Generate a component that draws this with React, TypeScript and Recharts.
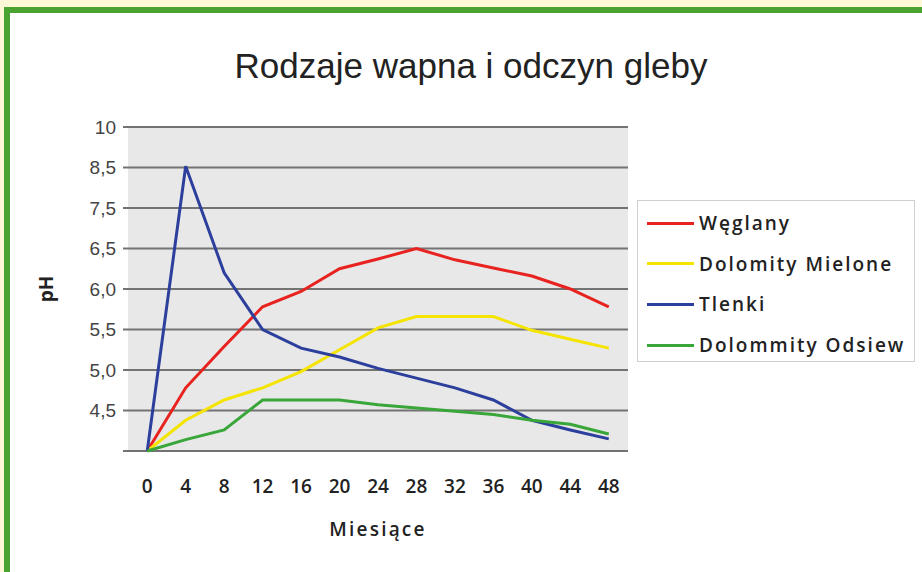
import { CartesianGrid, Label, Line, LineChart, XAxis, YAxis } from "recharts";

// months on the x axis
const months = [0, 4, 8, 12, 16, 20, 24, 28, 32, 36, 40, 44, 48];

// pH readings per lime type
const weglany = [4.0, 4.78, 5.29, 5.78, 5.97, 6.25, 6.37, 6.5, 6.36, 6.26, 6.16, 6.0, 5.78];
const dolomityMielone = [4.0, 4.38, 4.63, 4.78, 4.98, 5.25, 5.52, 5.66, 5.66, 5.66, 5.49, 5.38, 5.27];
const tlenki = [4.0, 8.55, 6.2, 5.5, 5.27, 5.16, 5.02, 4.9, 4.78, 4.63, 4.38, 4.26, 4.15];
const dolommityOdsiew = [4.0, 4.14, 4.26, 4.63, 4.63, 4.63, 4.57, 4.53, 4.49, 4.45, 4.38, 4.33, 4.21];

// the original axis is not linear: gridlines are evenly spaced at these pH values
const phTicks = [4.0, 4.5, 5.0, 5.5, 6.0, 6.5, 7.5, 8.5, 10];
const phLabels = ["", "4,5", "5,0", "5,5", "6,0", "6,5", "7,5", "8,5", "10"];

// tick marks on the month axis sit between the categories
const monthBoundaries = [-2, 2, 6, 10, 14, 18, 22, 26, 30, 34, 38, 42, 46, 50];

const series = [
  { key: "weglany", name: "Węglany", color: "#e8231f", values: weglany },
  { key: "dolomityMielone", name: "Dolomity Mielone", color: "#f5e400", values: dolomityMielone },
  { key: "tlenki", name: "Tlenki", color: "#2d3f9c", values: tlenki },
  { key: "dolommityOdsiew", name: "Dolommity Odsiew", color: "#39a63a", values: dolommityOdsiew },
];

// map a pH value onto the evenly spaced gridline index
function toAxis(ph: number) {
  for (let i = 0; i < phTicks.length - 1; i++) {
    if (ph <= phTicks[i + 1]) {
      return i + (ph - phTicks[i]) / (phTicks[i + 1] - phTicks[i]);
    }
  }
  return phTicks.length - 1;
}

const data = months.map((m, i) => {
  const row: Record<string, number> = { month: m };
  series.forEach((s) => {
    row[s.key] = toAxis(s.values[i]);
  });
  return row;
});

const GRID = "#737373";
const SANS = "'Open Sans', sans-serif";

export default function App() {
  return (
    <div
      style={{
        position: "absolute",
        left: 0,
        top: 0,
        width: 922,
        height: 572,
        background: "#ffffff",
        overflow: "hidden",
      }}
    >
      {/* frame */}
      <div style={{ position: "absolute", left: 0, top: 0, width: 922, height: 7, background: "#fff8d6" }} />
      <div style={{ position: "absolute", left: 0, top: 0, width: 4, height: 572, background: "#fff8d6" }} />
      <div style={{ position: "absolute", left: 4, top: 7, width: 918, height: 6, background: "#4aa231" }} />
      <div style={{ position: "absolute", left: 4, top: 7, width: 6, height: 565, background: "#4aa231" }} />

      <div
        style={{
          position: "absolute",
          left: 0,
          top: 46,
          width: 942,
          textAlign: "center",
          fontFamily: "'Liberation Sans', Arial, sans-serif",
          fontSize: 35,
          color: "#222",
          whiteSpace: "nowrap",
        }}
      >
        Rodzaje wapna i odczyn gleby
      </div>

      <div style={{ position: "absolute", left: 0, top: 0 }}>
        <LineChart
          width={922}
          height={572}
          data={data}
          margin={{ top: 127, right: 294, bottom: 0, left: 0 }}
        >
          <CartesianGrid
            vertical={false}
            fill="#e8e8e8"
            stroke={GRID}
            strokeWidth={2}
            yAxisId="ph"
            xAxisId="marks"
          />
          <XAxis
            xAxisId="marks"
            type="number"
            dataKey="month"
            domain={[-2, 50]}
            ticks={monthBoundaries}
            tick={false}
            tickSize={6}
            tickLine={{ stroke: GRID, strokeWidth: 2 }}
            axisLine={{ stroke: GRID, strokeWidth: 2 }}
            height={0}
          />
          <XAxis
            xAxisId="labels"
            type="number"
            dataKey="month"
            domain={[-2, 50]}
            ticks={months}
            interval={0}
            tickLine={false}
            axisLine={false}
            tickSize={0}
            tickMargin={29}
            height={121}
            tick={{
              fontSize: 19,
              fontWeight: 600,
              fill: "#222",
              fontFamily: SANS,
            }}
          >
            <Label
              value="Miesiące"
              position="insideBottom"
              offset={36}
              style={{
                fontSize: 19,
                fontWeight: 600,
                fill: "#222",
                fontFamily: SANS,
                letterSpacing: 2.2,
              }}
            />
          </XAxis>
          <YAxis
            yAxisId="ph"
            type="number"
            domain={[0, 8]}
            ticks={[0, 1, 2, 3, 4, 5, 6, 7, 8]}
            interval={0}
            width={128}
            axisLine={false}
            tickSize={5}
            tickMargin={7}
            tickLine={{ stroke: GRID, strokeWidth: 2 }}
            tickFormatter={(v: number) => phLabels[v]}
            tick={{
              fontSize: 19,
              fill: "#444",
              fontFamily: "'Liberation Sans', Arial, sans-serif",
            }}
          >
            <Label
              content={({ viewBox }: any) => {
                const cx = viewBox.x + 46;
                const cy = viewBox.y + viewBox.height / 2;
                return (
                  <text
                    x={cx}
                    y={cy}
                    transform={`rotate(-90, ${cx}, ${cy})`}
                    textAnchor="middle"
                    dominantBaseline="central"
                    style={{
                      fontSize: 19,
                      fontWeight: 700,
                      fill: "#222",
                      fontFamily: SANS,
                    }}
                  >
                    pH
                  </text>
                );
              }}
            />
          </YAxis>
          {series.map((s) => (
            <Line
              key={s.key}
              xAxisId="labels"
              yAxisId="ph"
              type="linear"
              dataKey={s.key}
              name={s.name}
              stroke={s.color}
              strokeWidth={3}
              dot={false}
              activeDot={false}
              isAnimationActive={false}
            />
          ))}
        </LineChart>
      </div>

      {/* legend */}
      <div
        style={{
          position: "absolute",
          left: 637,
          top: 200,
          width: 276,
          height: 160,
          border: "1px solid #cfcfcf",
          background: "#fff",
        }}
      >
        {series.map((s, i) => (
          <div
            key={s.key}
            style={{
              position: "absolute",
              left: 9,
              top: 8 + i * 40.7,
              height: 28,
              display: "flex",
              alignItems: "center",
              whiteSpace: "nowrap",
            }}
          >
            <span style={{ display: "inline-block", width: 47, height: 3, background: s.color }} />
            <span
              style={{
                marginLeft: 5,
                fontFamily: SANS,
                fontWeight: 600,
                fontSize: 19,
                letterSpacing: 2,
                color: "#222",
              }}
            >
              {s.name}
            </span>
          </div>
        ))}
      </div>
    </div>
  );
}
